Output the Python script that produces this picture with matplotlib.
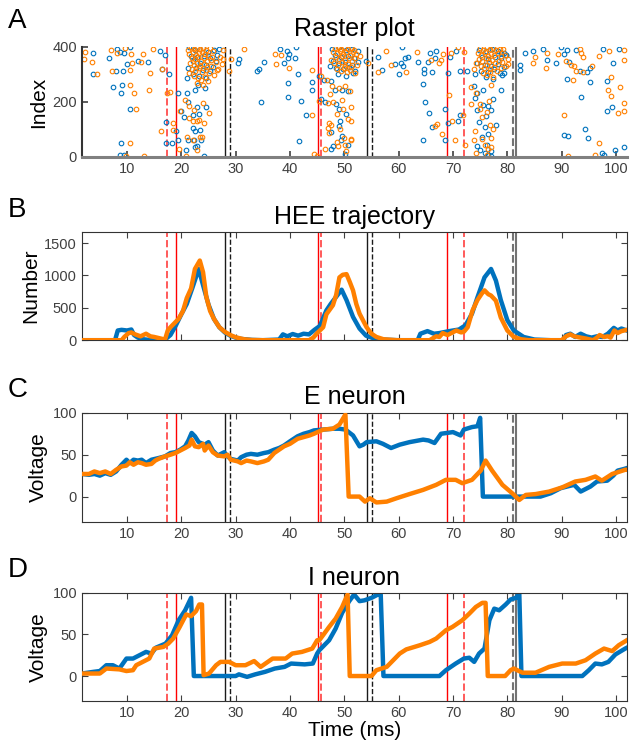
import matplotlib
matplotlib.use('Agg')
import matplotlib.pyplot as plt

plt.rcParams['font.family'] = ['Liberation Sans', 'DejaVu Sans']

BLUE = '#0072BD'
ORANGE = '#FF8000'

# ---- event markers (ms) ----
red_solid = [19.0, 45.2, 68.9]
red_dash = [17.3, 45.7, 72.0]
black_solid = [28.1, 54.2]
black_dash = [29.0, 55.1]
gray_dash = [81.1]
gray_solid = [81.6]

# ---- raster plot, (time, index) ----
raster_blue = [
    (3.8, 379), (3.8, 301), (8.1, 392), (8.7, 383), (6.6, 360), (10.0, 338), (10.6, 398), (9.4, 378),
    (12.0, 350), (13.8, 345), (16.0, 387), (7.9, 314), (9.2, 314), (9.1, 263), (7.4, 253), (8.9, 231),
    (10.5, 176), (8.9, 50), (8.7, 8), (9.5, 6), (16.5, 320), (17.0, 372), (17.8, 302), (17.1, 128),
    (17.1, 52), (18.2, 50), (19.0, 95), (19.4, 62), (20.0, 167), (19.3, 233), (20.8, 25), (21.1, 231),
    (21.3, 200), (20.4, 144), (22.2, 154), (22.2, 106), (21.3, 62), (22.9, 40), (23.6, 62), (23.4, 97),
    (22.6, 95), (24.1, 2), (22.6, 35), (22.4, 62), (22.8, 183), (23.3, 158), (24.6, 180),
    (21.4, 398), (22.6, 388), (23.9, 395), (25.0, 382), (26.0, 390), (21.7, 368), (22.8, 364),
    (24.1, 366), (25.3, 358), (26.6, 372), (22.2, 348), (23.4, 342), (24.6, 336), (25.9, 328),
    (21.3, 325), (22.7, 322), (23.9, 316), (25.2, 312), (22.1, 300), (23.3, 296), (24.6, 286),
    (21.0, 286), (23.0, 262), (24.4, 250), (22.6, 244),
    (27.0, 392), (26.4, 350), (30.7, 355), (30.4, 341), (34.3, 320), (34.0, 314), (34.7, 198),
    (35.2, 345), (38.1, 394), (39.4, 387), (39.9, 373), (39.6, 361), (40.9, 359), (38.9, 341),
    (41.1, 399), (41.4, 301), (39.6, 270), (42.0, 205), (39.6, 219), (44.0, 245), (43.0, 152),
    (41.6, 57), (44.1, 272), (45.3, 296), (45.7, 210), (47.6, 30),
    (46.2, 280), (47.6, 275), (48.2, 244), (49.6, 244), (50.7, 239), (46.4, 200), (48.5, 192),
    (49.1, 174), (50.4, 155), (49.2, 131), (49.0, 111), (47.6, 92), (49.5, 75), (49.4, 61),
    (50.7, 42), (50.1, 10), (47.9, 40),
    (47.8, 392), (49.1, 398), (50.3, 389), (51.5, 394), (52.6, 385), (48.3, 370), (49.4, 364),
    (50.6, 368), (51.8, 360), (47.9, 348), (49.0, 340), (50.2, 344), (51.4, 336), (52.5, 345),
    (48.5, 324), (49.7, 318), (50.9, 328), (52.0, 314), (48.9, 300), (50.4, 296), (47.4, 330),
    (51.6, 305),
    (54.0, 350), (56.2, 362), (56.9, 316), (59.4, 338), (60.6, 398), (60.5, 341), (60.8, 329),
    (60.1, 301), (61.2, 360), (61.8, 365), (63.6, 345), (65.7, 379), (64.7, 321), (64.6, 307),
    (66.1, 309), (66.9, 387), (66.6, 358), (65.4, 345), (64.4, 266), (64.9, 200), (65.6, 159),
    (66.1, 108), (64.4, 62), (69.1, 304), (68.6, 175), (69.1, 122), (68.6, 60), (69.5, 362),
    (70.6, 387), (71.2, 311), (72.6, 314), (71.0, 129), (71.3, 152),
    (73.9, 258), (74.5, 231), (75.6, 244), (74.0, 216), (75.6, 189), (74.4, 169), (76.1, 148),
    (74.8, 127), (75.9, 108), (75.4, 73), (74.5, 40), (75.0, 25), (75.8, 16), (76.5, 6),
    (74.8, 388), (76.0, 385), (77.1, 392), (78.3, 384), (79.4, 378), (75.3, 362), (76.5, 356),
    (77.7, 364), (78.9, 358), (79.7, 372), (74.5, 340), (75.9, 336), (77.0, 330), (78.2, 338),
    (79.3, 326), (75.2, 314), (76.4, 308), (77.6, 318), (78.7, 306), (76.0, 290), (77.3, 284),
    (74.1, 300), (79.0, 298),
    (78.8, 377), (79.7, 372), (79.4, 304), (78.9, 244), (77.3, 212), (76.4, 187), (77.0, 170),
    (78.0, 118), (76.4, 82), (76.3, 43), (77.0, 21), (77.0, 2),
    (82.4, 333), (82.4, 316), (83.2, 379), (84.8, 384), (86.5, 392), (87.3, 353), (89.0, 341),
    (89.9, 398), (90.5, 376), (91.0, 389), (91.4, 345), (93.4, 311), (92.6, 389), (94.6, 309),
    (95.3, 324), (97.6, 392), (99.5, 341), (100.6, 392), (98.3, 275), (95.3, 272), (91.0, 282),
    (93.6, 218), (99.2, 182), (98.3, 167), (94.3, 100), (94.9, 69), (90.5, 81), (91.2, 76),
    (97.5, 16), (97.8, 6), (99.8, 25), (101.4, 38),
]

raster_orange = [
    (2.3, 383), (2.0, 355), (3.5, 347), (4.4, 301), (7.0, 389), (8.2, 378), (11.0, 340), (9.6, 395),
    (10.7, 375), (13.0, 373), (12.6, 345), (14.7, 392), (7.3, 314), (10.6, 316), (14.2, 304),
    (10.5, 263), (11.3, 231), (14.0, 243), (11.6, 176), (10.5, 50), (9.9, 4), (13.2, 5), (16.5, 320),
    (17.4, 231), (17.9, 236), (16.2, 95), (18.5, 125), (18.4, 98), (19.6, 30), (19.8, 167), (20.8, 5),
    (20.7, 207), (21.5, 187), (21.5, 141), (22.2, 129), (22.8, 129), (21.0, 71), (22.2, 62),
    (23.4, 71), (23.8, 72), (23.2, 136), (22.9, 25), (24.1, 125), (22.4, 172), (23.9, 196), (25.1, 159),
    (21.2, 390), (21.8, 398), (22.3, 394), (22.9, 397), (23.4, 392), (24.0, 396), (24.6, 390),
    (25.2, 395), (25.8, 386), (21.5, 375), (22.1, 380), (22.7, 372), (23.2, 378), (23.8, 383),
    (24.4, 374), (25.0, 370), (25.7, 362), (21.9, 360), (22.5, 355), (23.0, 362), (23.6, 350),
    (24.2, 358), (24.8, 348), (25.4, 352), (26.3, 345), (21.6, 340), (22.3, 335), (22.9, 342),
    (23.5, 330), (24.1, 338), (24.7, 326), (25.5, 332), (22.0, 318), (22.6, 312), (23.2, 322),
    (23.8, 308), (24.5, 316), (25.1, 305), (26.0, 298), (22.4, 295), (23.1, 288), (23.7, 280),
    (24.3, 292), (22.8, 270), (23.9, 262), (24.9, 275), (21.4, 305), (26.6, 315), (27.2, 362),
    (27.6, 389), (27.4, 338), (26.8, 320), (27.7, 357), (28.8, 311), (29.1, 357), (31.6, 394),
    (37.2, 374), (37.5, 338), (39.9, 325), (38.4, 370), (44.0, 317), (44.0, 152), (44.5, 11),
    (45.7, 296), (45.3, 203), (46.4, 30), (45.0, 2),
    (46.8, 278), (47.8, 258), (49.1, 249), (50.2, 258), (47.3, 229), (47.9, 200), (47.0, 197),
    (49.6, 207), (49.8, 176), (48.7, 157), (50.7, 139), (47.1, 125), (47.6, 118), (47.0, 107),
    (49.2, 102), (47.2, 87), (50.0, 68), (48.6, 54), (51.2, 66), (50.2, 44), (50.3, 22), (48.8, 40),
    (48.2, 396), (48.8, 399), (49.4, 394), (50.0, 398), (50.6, 393), (51.2, 397), (51.8, 390),
    (48.0, 382), (48.6, 378), (49.2, 385), (49.8, 376), (50.4, 383), (51.0, 372), (51.6, 380),
    (52.2, 374), (48.4, 362), (49.0, 356), (49.6, 366), (50.2, 352), (50.8, 360), (51.4, 348),
    (52.0, 358), (48.1, 340), (48.8, 334), (49.5, 344), (50.1, 330), (50.7, 338), (51.3, 326),
    (52.3, 336), (48.6, 318), (49.3, 312), (49.9, 322), (50.5, 308), (51.1, 316), (51.9, 304),
    (47.6, 352), (52.8, 366),
    (54.3, 343), (51.0, 241), (51.2, 183), (51.2, 129), (51.2, 63), (57.6, 384), (56.2, 308),
    (58.5, 333), (61.4, 308), (63.4, 382), (66.0, 353), (67.8, 353), (67.5, 343), (67.0, 120),
    (66.6, 111), (68.0, 84), (68.2, 375), (69.3, 225), (69.9, 129), (70.4, 62), (69.6, 378),
    (70.9, 398), (72.1, 383), (71.9, 154), (72.2, 42),
    (73.4, 256), (74.2, 233), (73.3, 192), (75.0, 194), (74.9, 176), (75.3, 145), (76.2, 163),
    (74.1, 93), (73.8, 62), (75.4, 64), (75.9, 42), (74.2, 13), (76.4, 30),
    (75.0, 396), (75.6, 390), (76.2, 398), (76.8, 393), (77.4, 397), (78.0, 388), (78.6, 394),
    (74.6, 378), (75.2, 372), (75.8, 382), (76.4, 368), (77.0, 376), (77.6, 370), (78.2, 378),
    (78.8, 366), (79.5, 372), (74.8, 355), (75.4, 348), (76.0, 358), (76.6, 344), (77.2, 352),
    (77.8, 340), (78.4, 350), (79.1, 344), (75.1, 330), (75.7, 322), (76.3, 334), (76.9, 318),
    (77.5, 326), (78.1, 314), (79.8, 330), (75.5, 305), (76.2, 298), (76.8, 308), (77.4, 292),
    (74.2, 340), (73.8, 318), (80.1, 356),
    (79.2, 392), (80.1, 338), (78.9, 324), (77.0, 261), (76.7, 202), (76.8, 118), (77.4, 101),
    (77.0, 70), (77.0, 36), (76.2, 7),
    (85.1, 365), (84.8, 341), (87.3, 378), (87.1, 324), (89.4, 373), (90.8, 348), (91.7, 336),
    (92.3, 331), (92.6, 314), (94.0, 309), (93.3, 394), (93.5, 379), (94.0, 362), (95.6, 329),
    (96.9, 368), (98.8, 387), (101.4, 389), (101.4, 353), (99.0, 289), (92.0, 279), (98.6, 245),
    (99.0, 223), (100.8, 255), (100.4, 160), (101.5, 197), (101.5, 168), (90.5, 154), (96.9, 52),
    (96.2, 6), (91.2, 4),
]

# ---- HEE trajectory ----
hee_blue_t = [1.7, 7.8, 8.3, 9.0, 10.0, 10.8, 11.3, 12.0, 13.0, 14.0, 15.0, 16.0, 17.0, 18.0, 19.0,
              20.0, 21.0, 22.0, 23.2, 24.0, 25.0, 26.0, 27.0, 28.0, 29.0, 30.0, 31.0, 33.0, 35.0,
              38.0, 38.7, 39.5, 40.5, 41.5, 42.5, 43.5, 44.5, 45.5, 46.7, 47.5, 48.5, 49.5, 50.4,
              51.6, 52.8, 54.0, 55.0, 57.0, 60.0, 63.5, 64.0, 65.3, 66.5, 67.5, 69.3, 71.1, 72.3,
              73.5, 74.5, 75.8, 77.0, 77.9, 78.8, 80.0, 81.2, 83.0, 85.0, 88.0, 90.3, 90.8, 91.6,
              92.5, 93.5, 94.5, 95.5, 96.5, 97.5, 98.5, 99.6, 100.3, 101.0, 102.0]
hee_blue = [0, 0, 150, 160, 150, 165, 80, 40, 15, 5, 0, 0, 10, 80, 230,
            400, 560, 800, 1100, 850, 550, 330, 200, 120, 70, 40, 20, 5, 0,
            10, 90, 60, 95, 70, 100, 90, 160, 220, 460, 560, 670, 780, 620,
            360, 180, 70, 40, 10, 0, 0, 100, 140, 100, 110, 140, 165, 230,
            410, 660, 970, 1100, 920, 620, 310, 150, 50, 10, 0, 0, 80, 100,
            50, 100, 60, 40, 60, 50, 100, 190, 150, 180, 150]

hee_orange_t = [1.7, 9.0, 9.5, 10.3, 10.8, 11.5, 12.5, 13.5, 14.3, 15.0, 16.0, 17.0, 17.5, 18.0,
                18.7, 19.5, 20.3, 21.0, 21.8, 22.5, 23.4, 24.0, 24.6, 25.3, 26.0, 27.0, 28.0, 29.0,
                30.0, 31.5, 33.0, 35.0, 43.5, 44.3, 45.0, 46.1, 46.7, 47.9, 48.5, 49.1, 49.7, 50.4,
                51.0, 51.6, 52.2, 52.8, 54.1, 55.0, 55.9, 57.2, 59.6, 65.7, 66.9, 67.5, 68.1, 69.0,
                69.7, 70.6, 71.5, 72.0, 72.7, 73.6, 74.5, 75.3, 75.8, 76.5, 77.0, 77.9, 78.8, 80.0,
                81.2, 82.5, 84.0, 90.0, 90.8, 91.6, 92.3, 93.5, 94.5, 95.8, 96.5, 97.0, 97.8, 98.5,
                99.0, 99.7, 100.3, 101.0, 102.0]
hee_orange = [0, 0, 50, 110, 120, 90, 60, 100, 60, 50, 30, 10, 150, 200,
              260, 330, 450, 650, 800, 1100, 1230, 1050, 670, 450, 330, 200, 130, 80,
              45, 15, 3, 0, 0, 40, 110, 200, 400, 540, 700, 970, 1010, 1020,
              900, 770, 560, 410, 200, 100, 50, 15, 0, 0, 60, 50, 110, 80,
              110, 150, 120, 130, 200, 460, 620, 720, 770, 710, 690, 610, 350, 150,
              50, 15, 0, 0, 60, 90, 60, 40, 25, 0, 40, 80, 50, 60,
              40, 150, 110, 140, 160]

# ---- E neuron voltage ----
e_blue_t = [1.7, 3, 4, 5, 6, 7, 8, 9, 9.9, 10.5, 11.2, 12, 12.7, 13.5, 14.5, 15.8, 17, 18, 18.9,
            19.8, 20.7, 21.3, 21.9, 22.5, 23.2, 24.3, 25, 25.8, 26.7, 27.9, 28.5, 29.1, 30.4, 31,
            32, 32.8, 34, 35.2, 36, 37.1, 38, 38.9, 40, 41.4, 42.5, 43.6, 44.4, 46.1, 47.9, 49.1,
            50.2, 51.6, 52.8, 53.5, 54.1, 55.9, 57.1, 58.6, 60.2, 62.0, 64.5, 65.5, 66.6, 67.8,
            70.0, 71.4, 72.0, 73.5, 74.5, 75.0, 75.5, 81.2, 86.1, 88, 89.8, 91, 92.3, 93.5, 95.3,
            96.5, 98.4, 99.5, 100.3, 101.5, 102]
e_blue = [27, 26, 27, 25, 28, 26, 30, 38, 44, 40, 44, 43, 44, 40, 44, 46, 48, 52, 53,
          56, 60, 67, 76, 72, 65, 62, 65, 55, 49, 53, 48, 45, 43, 47,
          50, 51, 50, 52, 53, 56, 58, 61, 66, 72, 75, 77, 79, 80, 81, 81,
          80, 73, 60, 62, 65, 66, 63, 58, 62, 65, 68, 67, 64, 75,
          77, 73, 80, 83, 84, 94, 0, 0, 0, 4, 10, 12, 14, 6, 12,
          18, 19, 25, 31, 33, 34]

e_orange_t = [1.7, 3, 4, 5, 6, 7, 8, 9, 9.9, 10.5, 11.2, 12, 12.7, 13.5, 14.5, 15.2, 15.8, 17, 18,
              18.9, 19.8, 20.7, 21.5, 21.9, 22.5, 23.2, 24.0, 24.3, 25, 25.8, 26.7, 27.9, 28.5,
              29.1, 30.4, 31, 32, 32.8, 34, 35.2, 36, 37.1, 38, 38.9, 40, 41.4, 42.5, 43.6, 44.4,
              46.1, 47.9, 49.1, 50.2, 50.8, 52.8, 53.8, 54.7, 55.9, 57.8, 59.6, 62.0, 64.5, 66.9,
              68.7, 70.5, 71.7, 73.5, 75.1, 76.0, 77.2, 79.1, 80.9, 82.2, 83.4, 85.2, 87.7, 90.1,
              92.5, 94.4, 96.2, 97.4, 99.3, 101.7, 102]
e_orange = [27, 27, 30, 28, 30, 27, 32, 36, 37, 41, 38, 41, 40, 38, 39, 43, 45, 48, 50,
            52, 55, 58, 61, 68, 60, 59, 63, 55, 61, 53, 49, 48, 50,
            44, 42, 40, 43, 42, 40, 42, 44, 52, 56, 60, 63, 69, 71, 73, 75,
            80, 81, 86, 98, 0, 0, -6, -2, -7, -6, -2, 3, 8, 14,
            20, 20, 16, 20, 31, 43, 31, 14, 4, -4, 2, 3, 6, 11,
            18, 20, 24, 19, 27, 32, 32]

# ---- I neuron voltage ----
i_blue_t = [1.7, 3.8, 5.0, 6.2, 7.4, 8.6, 9.9, 11.1, 12.3, 13.5, 14.5, 15.3, 17.1, 18.3, 19.5,
            20.7, 21.8, 22.3, 30.0, 30.6, 32.1, 33.6, 35.4, 37.2, 39.0, 40.2, 42.7, 44.2, 45.0,
            45.4, 47.2, 48.4, 49.6, 50.9, 51.8, 52.8, 53.7, 55.0, 56.2, 56.7, 57.2, 67.5, 68.7,
            70.5, 72.0, 73.0, 73.9, 74.8, 75.8, 76.7, 77.6, 78.5, 79.7, 80.6, 81.6, 82.2, 82.6,
            93.8, 95.0, 96.2, 97.4, 98.6, 99.9, 101.7, 102]
i_blue = [3, 5, 6, 13, 13, 9, 21, 21, 25, 29, 27, 34, 39, 49, 67,
          79, 94, 0, 0, 2, -1, 2, 5, 9, 11, 15, 14, 15, 27,
          31, 43, 57, 76, 90, 98, 90, 91, 94, 98, 98, 0, 0, 7,
          15, 21, 22, 17, 27, 33, 67, 81, 79, 86, 92, 94, 100, 0,
          0, 7, 15, 14, 17, 26, 33, 34]

i_orange_t = [1.7, 5.0, 6.2, 8.6, 9.9, 11.1, 11.7, 12.9, 14.1, 15.0, 16.7, 17.6, 18.5, 19.7, 20.9,
              21.8, 22.7, 23.3, 23.8, 24.1, 25.1, 26.4, 27.2, 28.8, 30.0, 31.8, 33.4, 34.6, 36.8,
              39.2, 40.4, 42.2, 44.1, 45.0, 45.4, 47.2, 48.4, 49.6, 50.6, 51.0, 55.0, 55.9, 57.8,
              59.0, 60.2, 61.4, 63.9, 65.7, 66.9, 68.7, 69.9, 71.7, 73.0, 74.2, 75.4, 76.0, 76.4,
              79.6, 80.6, 81.2, 82.8, 85.2, 87.7, 90.1, 92.6, 94.4, 96.2, 97.8, 99.3, 100.5, 102.0]
i_orange = [3, 3, 9, 8, 6, 7, 13, 17, 21, 33, 35, 39, 45, 59, 74,
            72, 78, 86, 86, 1, 3, 13, 17, 17, 13, 13, 18, 11, 21,
            21, 27, 29, 33, 43, 43, 59, 69, 83, 98, 0, 0, 7, 11,
            19, 27, 32, 37, 41, 45, 55, 59, 67, 75, 83, 88, 88, 0,
            0, 7, 9, 4, 4, 11, 15, 15, 19, 27, 33, 30, 37, 43]

XLIM = (1.7, 102)
XTICKS = [10, 20, 30, 40, 50, 60, 70, 80, 90, 100]


def add_events(ax):
    for x in red_dash:
        ax.axvline(x, color='#FF5A5A', ls='--', lw=1.4, zorder=1)
    for x in red_solid:
        ax.axvline(x, color='#FF0000', ls='-', lw=1.0, zorder=1)
    for x in black_solid:
        ax.axvline(x, color='0.1', ls='-', lw=1.0, zorder=1)
    for x in black_dash:
        ax.axvline(x, color='0.1', ls='--', lw=1.0, zorder=1)
    for x in gray_dash:
        ax.axvline(x, color='0.45', ls='--', lw=1.5, zorder=1)
    for x in gray_solid:
        ax.axvline(x, color='0.45', ls='-', lw=1.5, zorder=1)


def style_box(ax, labels=True):
    ax.set_xlim(*XLIM)
    ax.set_xticks(XTICKS)
    if not labels:
        ax.set_xticklabels([])
    ax.tick_params(direction='in', top=True, right=True, length=4, width=0.8,
                   colors='0.25', labelsize=10.5)
    for s in ax.spines.values():
        s.set_color('0.2')
        s.set_linewidth(0.8)


fig = plt.figure(figsize=(6.3, 7.51), dpi=100)
L, W = 0.130, 0.865

# A: raster
axA = fig.add_axes([L, 0.791, W, 0.1465])
add_events(axA)
bt = [p[0] for p in raster_blue]
bi = [p[1] for p in raster_blue]
ot = [p[0] for p in raster_orange]
oi = [p[1] for p in raster_orange]
axA.plot(bt, bi, 'o', ms=3.3, mfc='none', mec=BLUE, mew=0.8, zorder=2)
axA.plot(ot, oi, 'o', ms=3.3, mfc='none', mec=ORANGE, mew=0.8, zorder=2)
axA.set_xlim(*XLIM)
axA.set_ylim(0, 400)
axA.set_xticks(XTICKS)
axA.set_yticks([0, 200, 400])
axA.spines['top'].set_visible(False)
axA.spines['right'].set_visible(False)
axA.spines['bottom'].set_color('0.5')
axA.spines['bottom'].set_linewidth(2.2)
axA.spines['left'].set_color('0.2')
axA.spines['left'].set_linewidth(1.5)
axA.tick_params(direction='in', length=4, width=1.2, colors='0.25', labelsize=10.5)
axA.set_ylabel('Index', fontsize=15, labelpad=3)
axA.set_title('Raster plot', fontsize=18, pad=8)

# B: HEE trajectory
axB = fig.add_axes([L, 0.547, W, 0.144])
add_events(axB)
axB.plot(hee_blue_t, hee_blue, color=BLUE, lw=3.2, zorder=2)
axB.plot(hee_orange_t, hee_orange, color=ORANGE, lw=3.2, zorder=3)
style_box(axB, labels=False)
axB.set_ylim(0, 1670)
axB.set_yticks([0, 500, 1000, 1500])
axB.set_ylabel('Number', fontsize=15, labelpad=3)
axB.set_title('HEE trajectory', fontsize=18, pad=6)

# C: E neuron
axC = fig.add_axes([L, 0.3053, W, 0.145])
add_events(axC)
axC.plot(e_blue_t, e_blue, color=BLUE, lw=3.2, zorder=2)
axC.plot(e_orange_t, e_orange, color=ORANGE, lw=3.2, zorder=3)
style_box(axC)
axC.set_ylim(-30, 100)
axC.set_yticks([0, 50, 100])
axC.set_ylabel('Voltage', fontsize=15, labelpad=3)
axC.set_title('E neuron', fontsize=18, pad=6)

# D: I neuron
axD = fig.add_axes([L, 0.0666, W, 0.144])
add_events(axD)
axD.plot(i_blue_t, i_blue, color=BLUE, lw=3.2, zorder=2)
axD.plot(i_orange_t, i_orange, color=ORANGE, lw=3.2, zorder=3)
style_box(axD)
axD.set_ylim(-30, 100)
axD.set_yticks([0, 50, 100])
axD.set_ylabel('Voltage', fontsize=15, labelpad=3)
axD.set_xlabel('Time (ms)', fontsize=15, labelpad=1)
axD.set_title('I neuron', fontsize=18, pad=6)

for letter, y in [('A', 0.990), ('B', 0.738), ('C', 0.498), ('D', 0.258)]:
    fig.text(0.012, y, letter, fontsize=20, va='top', ha='left')

fig.savefig('out.png', dpi=100)
